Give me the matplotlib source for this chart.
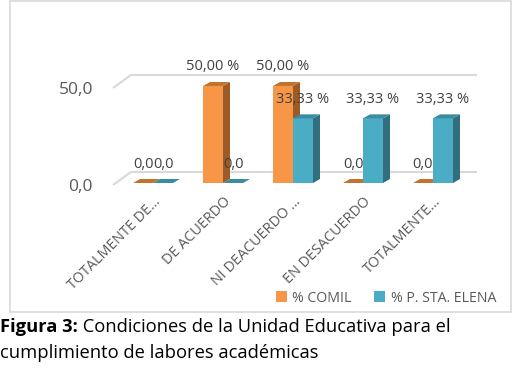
import matplotlib
matplotlib.use("Agg")
import matplotlib.pyplot as plt
from matplotlib.patches import Polygon, Rectangle, Patch
from matplotlib import transforms

plt.rcParams['font.family'] = ['Open Sans', 'DejaVu Sans']

categories = ["TOTALMENTE DE…", "DE ACUERDO", "NI DEACUERDO …", "EN DESACUERDO", "TOTALMENTE…"]
comil = [0.0, 50.0, 50.0, 0.0, 0.0]
sta_elena = [0.0, 0.0, 33.33, 33.33, 33.33]
series_names = ["% COMIL", "% P. STA. ELENA"]
yticks = [0, 50]
ytick_labels = ["0,0", "50,0"]
caption_bold = "Figura 3:"
caption_rest1 = " Condiciones de la Unidad Educativa para el"
caption_line2 = "cumplimiento de labores académicas"

W, H = 530, 385
fig = plt.figure(figsize=(W / 100, H / 100), dpi=100)

# scale constants (pixels)
PX_X = 70.0      # pixels per category
PX_Y = 1.94      # pixels per % unit
x0_px = 153.0    # pixel of category 0 center
y0_px = 183.0    # pixel of value 0
left_px, right_px, top_px = 113.0, 477.0, 20.0

ax = fig.add_axes([left_px / W, 1 - y0_px / H, (right_px - left_px) / W, (y0_px - top_px) / H])
ax.set_xlim((left_px - x0_px) / PX_X, (right_px - x0_px) / PX_X)
ax.set_ylim(0, (y0_px - top_px) / PX_Y)
for s in ax.spines.values():
    s.set_visible(False)
ax.tick_params(length=0)
ax.set_yticks([])

# chart border
fig.patches.append(Rectangle((10 / W, 1 - 312 / H), 501 / W, 311 / H, transform=fig.transFigure,
                             fill=False, edgecolor='#D9D9D9', linewidth=1.2))

# back wall gridlines (3D style)
wall_dx = 18 / PX_X
wall_dy = 11 / PX_Y
front_dy = -2 / PX_Y
xl = (left_px - x0_px) / PX_X
xr = (right_px - x0_px) / PX_X
for v in yticks:
    ax.plot([xl, xl + wall_dx, xr], [v + front_dy, v + wall_dy, v + wall_dy],
            color='#D9D9D9', lw=1.5, clip_on=False, zorder=1, solid_capstyle='butt')

# y tick labels
for v, lab in zip(yticks, ytick_labels):
    tr = transforms.offset_copy(transforms.blended_transform_factory(fig.transFigure, ax.transData),
                                fig=fig, x=0, y=-4, units='dots')
    fig.text(93 / W, v, lab, transform=tr, ha='right', va='center', fontsize=12.5, color='#595959')

# 3D bars
bw = 20 / PX_X
bdx = 7 / PX_X
bdy = 4 / PX_Y
styles = [
    dict(front='#F79646', side='#9C5B26', top='#C4732F', off=-bw / 2),
    dict(front='#4BACC6', side='#316F7F', top='#3B8CA1', off=bw / 2),
]


def fmt(v):
    if v == 0:
        return "0,0"
    return ("%.2f" % v).replace('.', ',') + " %"


for si, (vals, st) in enumerate(zip([comil, sta_elena], styles)):
    for i, v in enumerate(vals):
        xc = i + st['off']
        x = xc - bw / 2
        z = 3 + si
        if v > 0:
            ax.add_patch(Rectangle((x, 0), bw, v, facecolor=st['front'], edgecolor='none', zorder=z, clip_on=False))
            ax.add_patch(Polygon([(x + bw, 0), (x + bw + bdx, bdy), (x + bw + bdx, v + bdy), (x + bw, v)],
                                 closed=True, facecolor=st['side'], edgecolor='none', zorder=z, clip_on=False))
        ax.add_patch(Polygon([(x, v), (x + bw, v), (x + bw + bdx, v + bdy), (x + bdx, v + bdy)],
                             closed=True, facecolor=st['top'], edgecolor='none', zorder=z, clip_on=False))
        ax.text(xc, v + 19 / PX_Y, fmt(v), ha='center', va='center', fontsize=10.5,
                color='#404040', zorder=10)

# category labels
ax.set_xticks(range(len(categories)))
ax.set_xticklabels(categories, rotation=45, ha='right', va='top', rotation_mode='anchor',
                   fontsize=10.4, color='#595959')
for lbl in ax.get_xticklabels():
    lbl.set_transform(lbl.get_transform() + transforms.ScaledTranslation(8 / 100, 0, fig.dpi_scale_trans))
ax.tick_params(axis='x', pad=8)

# legend
handles = [Patch(facecolor=styles[0]['front']), Patch(facecolor=styles[1]['front'])]
fig.legend(handles, series_names, loc='center', bbox_to_anchor=(386 / W, 1 - 298 / H), ncol=2,
           frameon=False, fontsize=10.2, handlelength=0.75, handleheight=0.75, handletextpad=0.4,
           columnspacing=1.6, labelcolor='#595959')

# caption
r = fig.canvas.get_renderer()
t1 = fig.text(0, 1 - 327 / H, caption_bold, fontweight='bold', fontsize=13.2, color='black', va='center')
bb = t1.get_window_extent(renderer=r)
fig.text(bb.x1 / W, 1 - 327 / H, caption_rest1, fontsize=13.2, color='black', va='center')
fig.text(0, 1 - 353 / H, caption_line2, fontsize=13.2, color='black', va='center')

fig.savefig('out.png', dpi=100)
